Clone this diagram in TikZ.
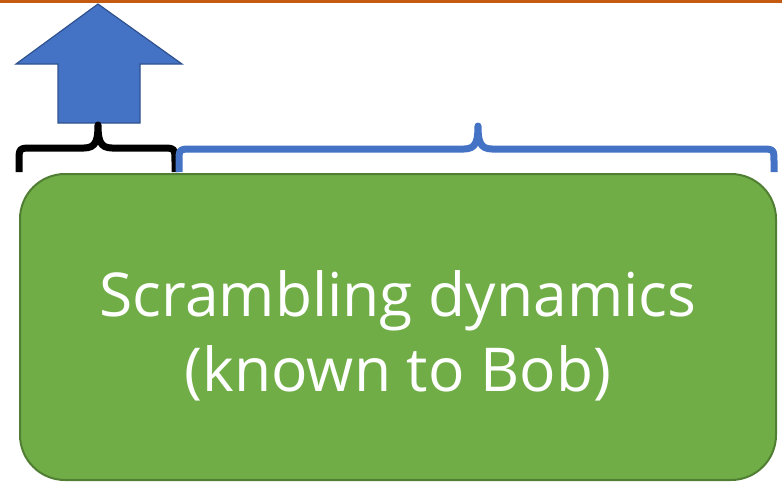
\documentclass[tikz,border=0pt]{standalone}
\usepackage{fontspec}
\setmainfont{Open Sans}
\definecolor{topline}{HTML}{C55A11}
\definecolor{arrowfill}{HTML}{4472C4}
\definecolor{arrowedge}{HTML}{2F528F}
\definecolor{boxfill}{HTML}{70AD47}
\definecolor{boxedge}{HTML}{507E32}
\begin{document}
\begin{tikzpicture}[x=1pt,y=-1pt,
  brace/.style={line width=7pt,line cap=butt,line join=round},
  box/.style={draw=boxedge,line width=2pt,fill=boxfill,rounded corners=45pt}]
\useasboundingbox (0,0) rectangle (782,483);
% top line
\draw[topline,line width=3pt] (0,1.5) -- (782,1.5);
% up arrow
\draw[fill=arrowfill,draw=arrowedge,line width=1.2pt,line join=miter]
  (98,4) -- (182,64) -- (140,64) -- (140,123) -- (58,123) -- (58,64) -- (16,64) -- cycle;
% black brace
\draw[brace,black] (19,172) -- (19,162) .. controls (19,148) .. (33,148) -- (84,148)
  .. controls (96,148) and (98,140) .. (98,125)
  .. controls (98,140) and (100,148) .. (112,148) -- (161,148)
  .. controls (175,148) .. (175,162) -- (175,172);
% blue brace
\draw[brace,arrowfill] (179,172) -- (179,162) .. controls (179,149) .. (193,149) -- (464,149)
  .. controls (476,149) and (478,141) .. (478,126)
  .. controls (478,141) and (480,149) .. (492,149) -- (760,149)
  .. controls (774,149) .. (774,162) -- (774,172);
% green box
\node[box,minimum width=756pt,minimum height=306pt,anchor=north west] (dyn) at (19,173) {};
\node[text=white,font=\fontsize{60.5}{75}\selectfont,align=center] (lbl) at (398,336)
  {Scrambling dynamics\\(known to Bob)};
\end{tikzpicture}
\end{document}
